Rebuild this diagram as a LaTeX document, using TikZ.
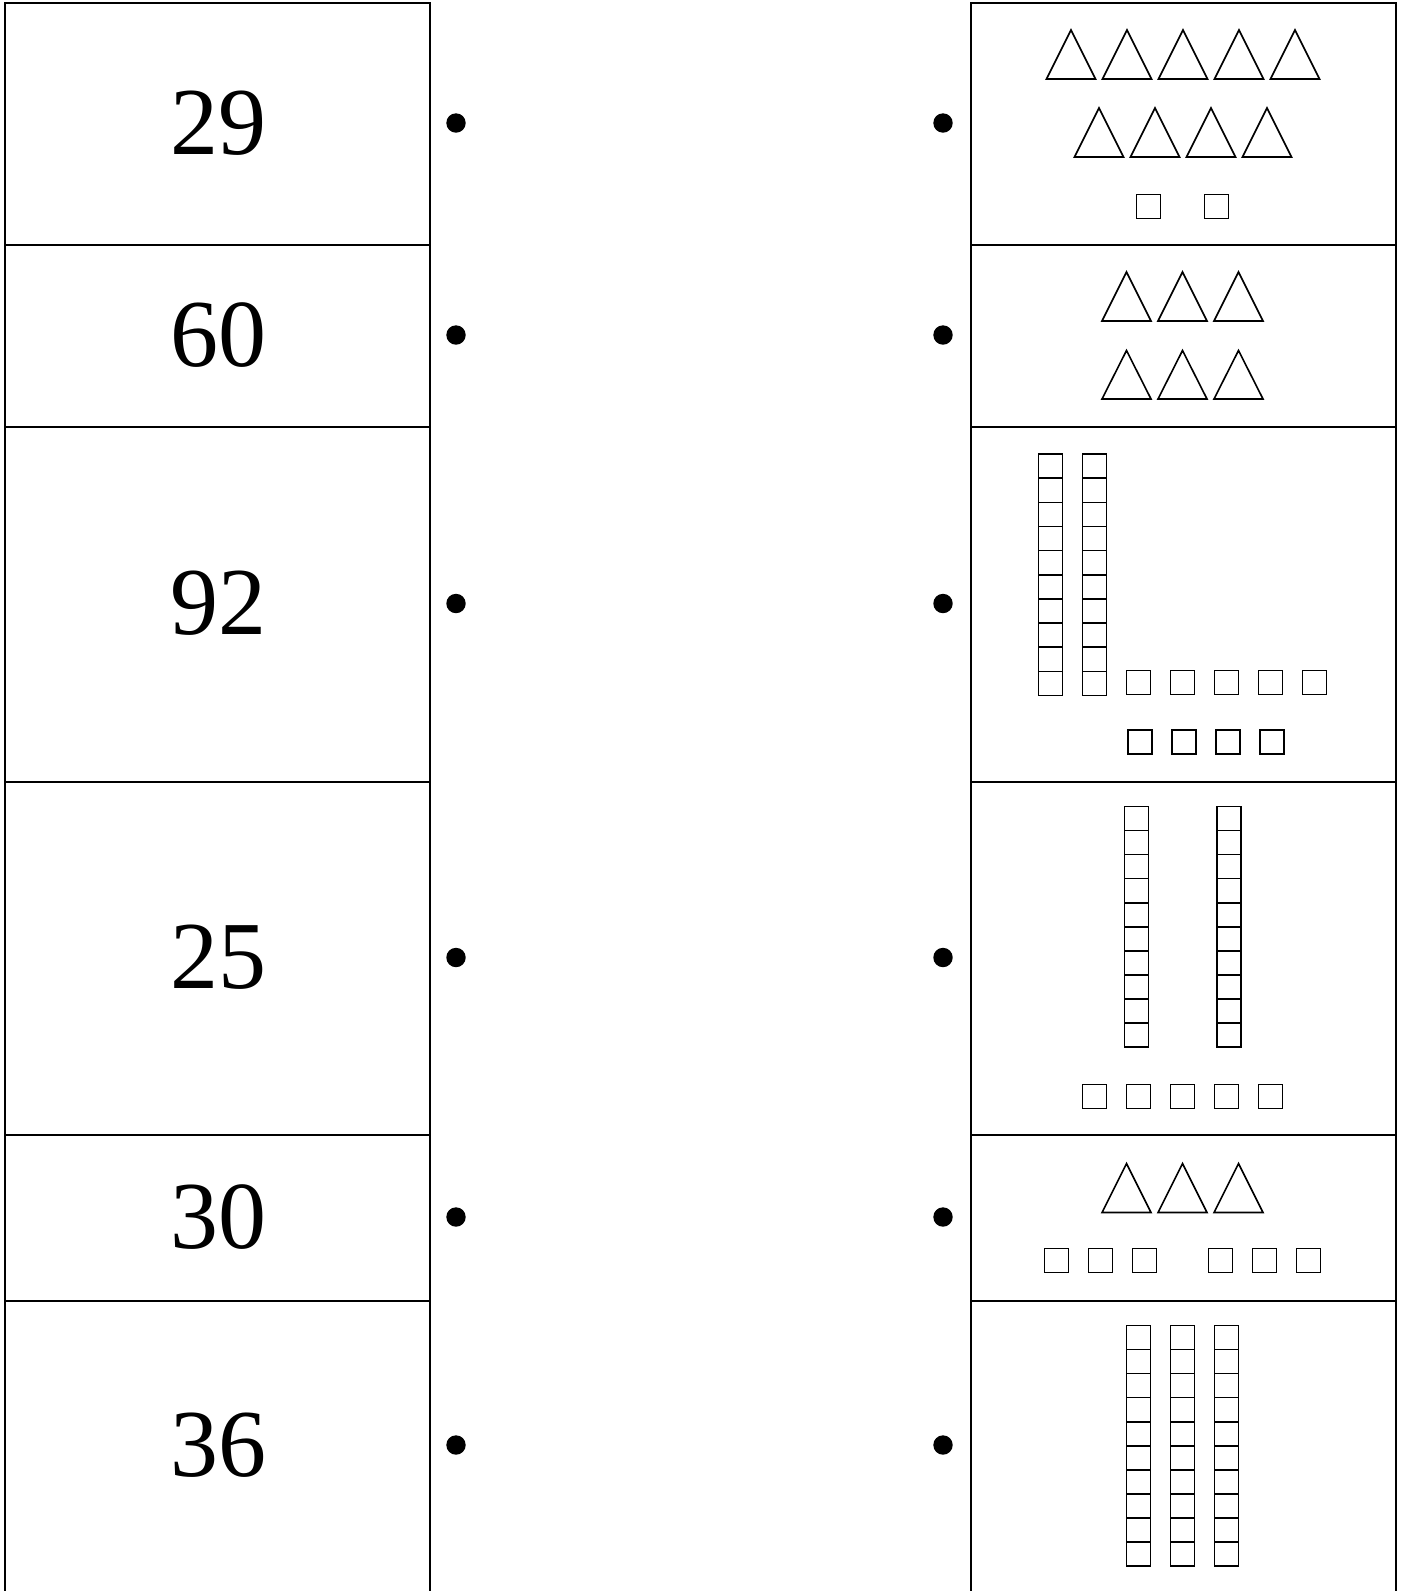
\documentclass[tikz,border=0pt]{standalone}
\usepackage{fontspec}
\setmainfont{Liberation Serif}
\usetikzlibrary{positioning}

\begin{document}
\begin{tikzpicture}[
      x=0.5pt, y=-0.5pt,
      grid/.style={draw, line width=1pt, line cap=rect},
      num/.style={inner sep=0pt, font=\fontsize{48}{58}\selectfont},
      dot/.style={circle, fill, inner sep=0pt, minimum size=9.7pt},
      shp/.style={draw, line width=0.8pt, line join=miter},
      cube/.style={draw, line width=0.8pt}
    ]
    \useasboundingbox (0,0) rectangle (1404,1591);

    % table lines
    \foreach \x in {5,430,971,1396}
      \draw[grid] (\x,3) -- (\x,1591);
    \foreach \y in {3,245,427,782,1135,1301}
      \draw[grid] (5,\y) -- (430,\y) (971,\y) -- (1396,\y);

    % numbers and dots
    \foreach \top/\bot/\val [count=\i] in {3/245/29, 245/427/60, 427/782/92, 782/1135/25, 1135/1301/30, 1301/1591/36} {
      \node[num] (num\i) at (218, {(\top+\bot)/2-1}) {\val};
      \node[dot] (left\i) at (456, {(\top+\bot)/2-1}) {};
      \node[dot] (right\i) at (943, {(\top+\bot)/2-1}) {};
    }

    % 29
    \foreach \c in {1071,1127,1183,1239,1295}
      \draw[shp] (\c-24.5,79) -- (\c,30) -- (\c+24.5,79) -- cycle;
    \foreach \c in {1099,1155,1211,1267}
      \draw[shp] (\c-24.5,157) -- (\c,108) -- (\c+24.5,157) -- cycle;
    \foreach \x in {1136.5,1204.5}
      \draw[cube] (\x,194.5) rectangle +(24,24);

    % 60
    \foreach \c in {1126.5,1182.5,1238.5} {
      \draw[shp] (\c-24.5,321) -- (\c,272) -- (\c+24.5,321) -- cycle;
      \draw[shp] (\c-24.5,399) -- (\c,350.5) -- (\c+24.5,399) -- cycle;
    }

    % 92
    \foreach \x in {1038.5,1082.5}
      \foreach \k in {0,...,9}
        \draw[cube] (\x,{454+24.15*\k}) rectangle +(24,24.15);
    \foreach \x in {1126.5,1170.5,1214.5,1258.5,1302.5}
      \draw[cube] (\x,670.5) rectangle +(24,24);
    \foreach \x in {1128,1172,1216,1260}
      \draw[cube] (\x,730) rectangle +(24,24);

    % 25
    \foreach \x in {1124.5,1217}
      \foreach \k in {0,...,9}
        \draw[cube] (\x,{806.5+24.05*\k}) rectangle +(24,24.05);
    \foreach \x in {1082.5,1126.5,1170.5,1214.5,1258.5}
      \draw[cube] (\x,1084.5) rectangle +(24,24);

    % 30
    \foreach \c in {1126.5,1182.5,1238.5}
      \draw[shp] (\c-24.5,1212.5) -- (\c,1163.5) -- (\c+24.5,1212.5) -- cycle;
    \foreach \x in {1044.5,1088.5,1132.5,1208.5,1252.5,1296.5}
      \draw[cube] (\x,1248.3) rectangle +(24,24);

    % 36
    \foreach \x in {1126.5,1170.5,1214.5}
      \foreach \k in {0,...,9}
        \draw[cube] (\x,{1325.5+24.05*\k}) rectangle +(24,24.05);
  \end{tikzpicture}
\end{document}
